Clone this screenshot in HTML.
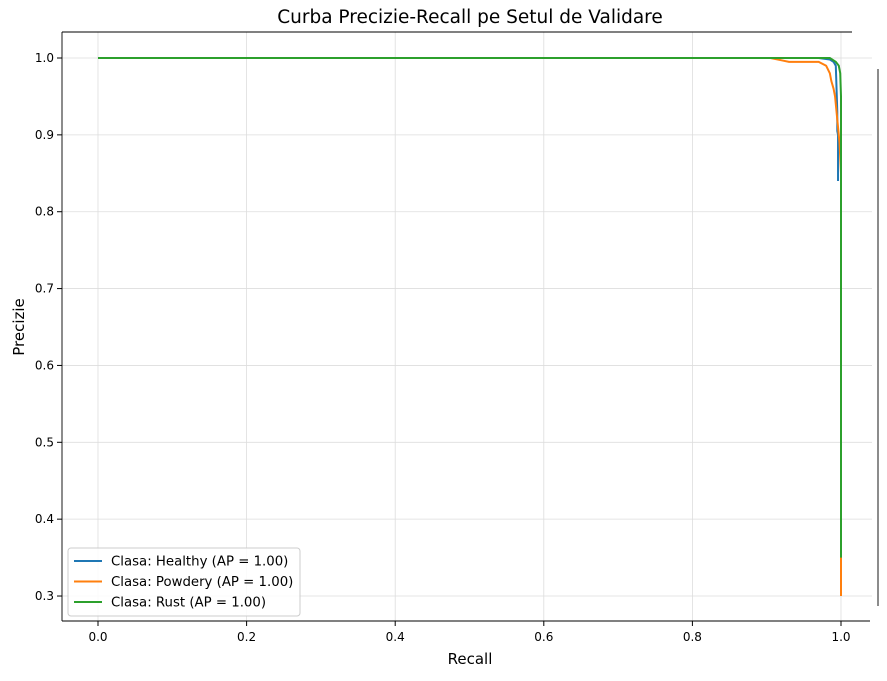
<!DOCTYPE html>
<html><head><meta charset="utf-8"><style>
body{margin:0;background:#fff;font-family:"Liberation Sans","DejaVu Sans",sans-serif}
svg text{font-family:"DejaVu Sans","Liberation Sans",sans-serif}
</style></head><body>
<svg id="c" width="887" height="676">
<text x="470" y="23" font-size="18.5" text-anchor="middle">Curba Precizie-Recall pe Setul de Validare</text>
<g id="grid"></g><g id="axes"></g><g id="lines"></g>
<line x1="62" y1="32" x2="852" y2="32" stroke="#000" stroke-width="0.9"/>
<line x1="62" y1="32" x2="62" y2="621" stroke="#000" stroke-width="0.9"/>
<line x1="62" y1="621" x2="870" y2="621" stroke="#000" stroke-width="0.9"/>
<line x1="878" y1="69" x2="878" y2="606" stroke="#000" stroke-width="0.9"/>
<text x="470" y="664" font-size="15" text-anchor="middle">Recall</text>
<text x="24" y="327" font-size="15" text-anchor="middle" transform="rotate(-90 24 327)">Precizie</text>
<g>
<rect x="68" y="548" width="232" height="68" rx="3" fill="#fff" fill-opacity="0.85" stroke="#ccc"/>
</g>
</svg>
<script>
const xTicks=[0,0.2,0.4,0.6,0.8,1.0];
const yTicks=[0.3,0.4,0.5,0.6,0.7,0.8,0.9,1.0];
const seriesNames=["Clasa: Healthy (AP = 1.00)","Clasa: Powdery (AP = 1.00)","Clasa: Rust (AP = 1.00)"];
const colors=["#1f77b4","#ff7f0e","#2ca02c"];
const healthyRecall=[0,0.97,0.985,0.99,0.993,0.994,0.995,0.995,0.996,0.996];
const healthyPrec=[1,1,0.998,0.995,0.99,0.96,0.93,0.905,0.9,0.84];
const powderyRecall=[0,0.905,0.92,0.93,0.97,0.98,0.985,0.987,0.99,0.992,0.995,0.997,0.998,1,1,1];
const powderyPrec=[1,1,0.997,0.995,0.995,0.99,0.98,0.97,0.96,0.95,0.92,0.9,0.89,0.85,0.35,0.30];
const rustRecall=[0,0.985,0.993,0.997,0.999,1,1];
const rustPrec=[1,1,0.995,0.99,0.98,0.95,0.35];
const X=v=>98+v*743, Y=v=>58+(1-v)*768.6;
const ns="http://www.w3.org/2000/svg";
function mk(p,t,a){const e=document.createElementNS(ns,t);for(const k in a)e.setAttribute(k,a[k]);p.appendChild(e);return e;}
const g=document.getElementById('grid'),ax=document.getElementById('axes'),L=document.getElementById('lines');
xTicks.forEach(v=>{const x=X(v);
const gl=mk(g,'line',{x1:x,y1:32,x2:x,y2:621,stroke:'#ddd','stroke-width':0.8});

mk(ax,'line',{x1:x,y1:621,x2:x,y2:626,stroke:'#000'});
const t=mk(ax,'text',{x:x,y:641,'font-size':12,'text-anchor':'middle'});t.textContent=v.toFixed(1);
});
yTicks.forEach(v=>{const y=Y(v);
const gl=mk(g,'line',{x1:62,y1:y,x2:872,y2:y,stroke:'#ddd','stroke-width':0.8});

mk(ax,'line',{x1:57,y1:y,x2:62,y2:y,stroke:'#000'});
const t=mk(ax,'text',{x:54,y:y+4,'font-size':12,'text-anchor':'end'});t.textContent=v.toFixed(1);
});
const data=[[healthyRecall,healthyPrec],[powderyRecall,powderyPrec],[rustRecall,rustPrec]];
data.forEach((d,i)=>{const pts=d[0].map((r,j)=>X(r)+','+Y(d[1][j])).join(' ');
const pl=mk(L,'polyline',{points:pts,fill:'none',stroke:colors[i],'stroke-width':2});

const y=561+i*20.5;
const ll=mk(document.getElementById('c'),'line',{x1:74,y1:y,x2:102,y2:y,stroke:colors[i],'stroke-width':2});

const t=mk(document.getElementById('c'),'text',{x:111,y:y+4.5,'font-size':13.3});t.textContent=seriesNames[i];
});
</script>
</body></html>
